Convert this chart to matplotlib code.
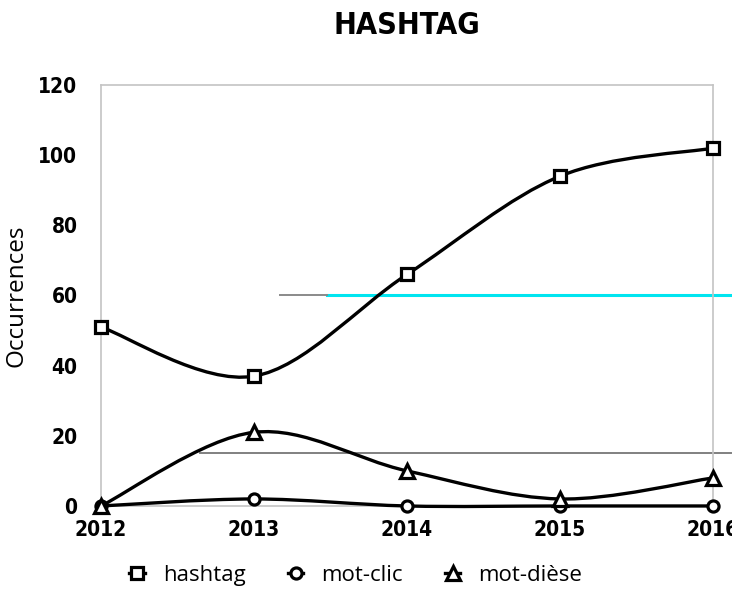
import os
import numpy as np
import matplotlib
matplotlib.use("Agg")
import matplotlib.pyplot as plt
from matplotlib import font_manager as fm
from matplotlib.path import Path
from matplotlib.patches import PathPatch
from matplotlib.lines import Line2D

years = [2012, 2013, 2014, 2015, 2016]
hashtag = [51, 37, 66, 94, 102]
mot_clic = [0, 2, 0, 0, 0]
mot_diese = [0, 21, 10, 2, 8]

# stray lines visible on the scan
cyan_level = 60
cyan_span = [2013.48, 2016.12]
grey_short_span = [2013.17, 2013.48]
grey_level = 15
grey_span = [2012.65, 2016.12]

sans = ["Open Sans", "Lato", "DejaVu Sans"]


def condensed_bold():
    # look for a narrow / condensed bold face, else plain Liberation Sans bold
    for f in fm.fontManager.ttflist:
        base = os.path.basename(f.fname).lower()
        if ("narrow" in base or "condensed" in base) and "bold" in base and "italic" not in base \
                and "oblique" not in base:
            return fm.FontProperties(fname=f.fname), True
    return fm.FontProperties(family=["Liberation Sans", "DejaVu Sans"], weight="bold"), False


cond, is_narrow = condensed_bold()
tick_size = 15 if is_narrow else 14
title_size = 22 if is_narrow else 20


def smooth_path(x, y):
    # bezier segments like the spreadsheet "smoothed line" option
    n = len(x)
    verts = [(x[0], y[0])]
    codes = [Path.MOVETO]
    for i in range(n - 1):
        xa, ya = (x[i - 1], y[i - 1]) if i > 0 else (x[i], y[i])
        xb, yb = (x[i + 2], y[i + 2]) if i + 2 < n else (x[i + 1], y[i + 1])
        c1 = (x[i] + (x[i + 1] - xa) / 6, y[i] + (y[i + 1] - ya) / 6)
        c2 = (x[i + 1] - (xb - x[i]) / 6, y[i + 1] - (yb - y[i]) / 6)
        verts += [c1, c2, (x[i + 1], y[i + 1])]
        codes += [Path.CURVE4] * 3
    return Path(verts, codes)


fig = plt.figure(figsize=(7.32, 5.99), dpi=100, facecolor="w")
ax = fig.add_axes([0.138, 0.1553, 0.974 - 0.138, 0.8581 - 0.1553])

ax.set_xlim(2012, 2016)
ax.set_ylim(0, 120)
ax.set_xticks(years)
ax.set_yticks(range(0, 121, 20))
ax.tick_params(length=0)
ax.tick_params(axis="y", pad=17)
ax.tick_params(axis="x", pad=10)
for lab in ax.get_xticklabels() + ax.get_yticklabels():
    lab.set_fontproperties(cond)
    lab.set_fontsize(tick_size)
for sp in ax.spines.values():
    sp.set_color("#c4c4c4")
    sp.set_linewidth(1.2)

ax.plot(cyan_span, [cyan_level, cyan_level], color="#00e5f0", lw=2.2, clip_on=False, zorder=1)
ax.plot(grey_short_span, [cyan_level, cyan_level], color="#8a8a8a", lw=1.4, clip_on=False, zorder=1)
ax.plot(grey_span, [grey_level, grey_level], color="#808080", lw=1.4, clip_on=False, zorder=1)

series = [(hashtag, "s", 9, "hashtag"), (mot_clic, "o", 8, "mot-clic"), (mot_diese, "^", 10.5, "mot-dièse")]
handles = []
for vals, mk, ms, name in series:
    ax.add_patch(PathPatch(smooth_path(years, vals), fill=False, ec="black", lw=2.4,
                           clip_on=False, zorder=3))
    ax.plot(years, vals, ls="none", marker=mk, ms=ms, mfc="white", mec="black", mew=2.3,
            clip_on=False, zorder=4)
    handles.append(Line2D([], [], color="black", lw=2.4, marker=mk, ms=ms, mfc="white",
                          mec="black", mew=2.3, label=name))

t = fig.text(0.556, 0.957, "HASHTAG", ha="center", va="center", fontproperties=cond)
t.set_fontsize(title_size)
fig.text(0.0225, 0.506, "Occurrences", rotation=90, ha="center", va="center",
         fontsize=17.5, family=sans)

leg = fig.legend(handles=handles, loc="center", bbox_to_anchor=(0.486, 0.039), ncol=3,
                 frameon=False, handlelength=0.7, handletextpad=0.8, columnspacing=1.9,
                 prop={"family": sans, "size": 16})

fig.savefig("out.png", dpi=100)
